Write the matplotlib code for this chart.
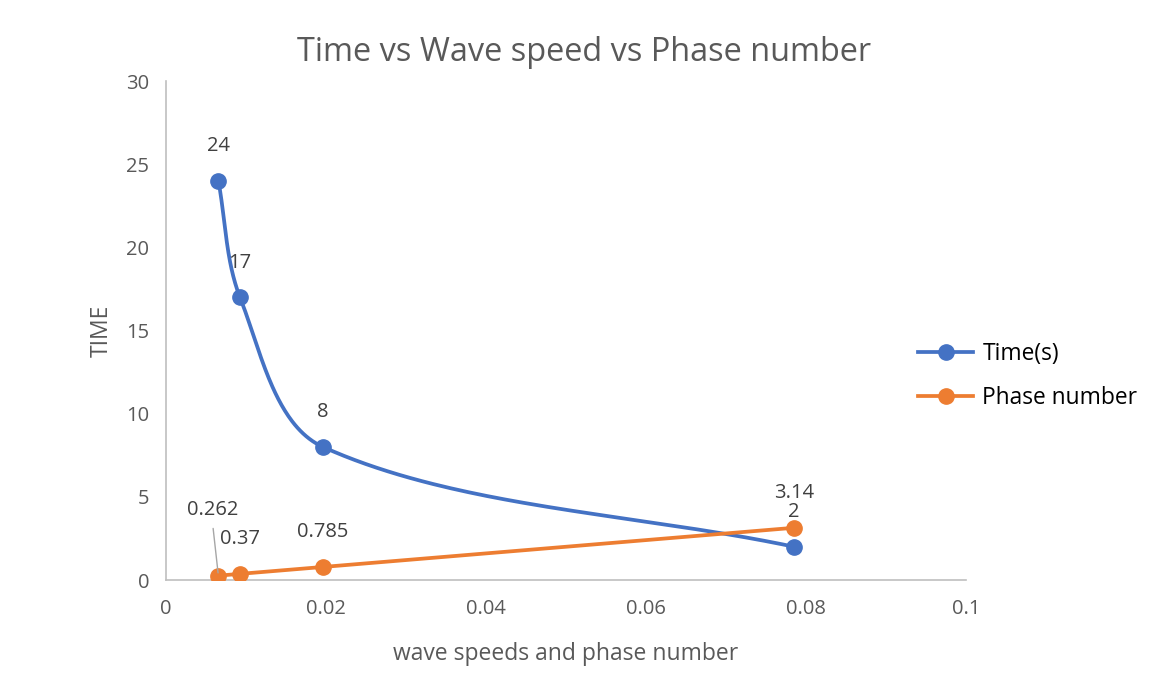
import matplotlib.pyplot as plt
import numpy as np

plt.rcParams['font.family'] = ['Open Sans', 'DejaVu Sans']

wave_speed = [0.00655, 0.00925, 0.019625, 0.0785]
time_s = [24, 17, 8, 2]
phase_number = [0.262, 0.37, 0.785, 3.14]
time_labels = ["24", "17", "8", "2"]
phase_labels = ["0.262", "0.37", "0.785", "3.14"]

BLUE = "#4472C4"
ORANGE = "#ED7D31"
TEXT = "#595959"


def smooth(xs, ys, n=80):
    # bezier segments, tangents weighted by chord length (close to excel's smoothing)
    pts = np.column_stack([xs, ys]).astype(float)
    pts = np.vstack([pts[:1], pts, pts[-1:]])
    seg = np.linalg.norm(np.diff(pts, axis=0), axis=1)
    t = np.linspace(0, 1, n)[:, None]
    out = []
    for i in range(1, len(pts) - 2):
        p0, p3 = pts[i], pts[i + 1]
        l0, l1, l2 = seg[i - 1], seg[i], seg[i + 1]
        c1 = p0 + (p3 - pts[i - 1]) * l1 / (l0 + l1) / 3
        c2 = p3 - (pts[i + 2] - p0) * l1 / (l1 + l2) / 3
        b = (1 - t) ** 3 * p0 + 3 * (1 - t) ** 2 * t * c1 + 3 * (1 - t) * t ** 2 * c2 + t ** 3 * p3
        out.append(b)
    out = np.vstack(out)
    return out[:, 0], out[:, 1]


fig = plt.figure(figsize=(11.55, 6.86), dpi=100)
ax = fig.add_axes([0.1437, 0.1545, 0.6927, 0.7274])

# smoothing done in pixel-like units so the curve bends like on screen
sx = 800 / 0.1
sy = 499 / 30
for ys, col, lab in [(time_s, BLUE, "Time(s)"), (phase_number, ORANGE, "Phase number")]:
    cx, cy = smooth(np.array(wave_speed) * sx, np.array(ys) * sy)
    ax.plot(cx / sx, cy / sy, color=col, lw=2.7, zorder=2, solid_capstyle='round')
    ax.plot(wave_speed, ys, 'o', color=col, ms=11, zorder=3)
    ax.plot([], [], '-o', color=col, lw=2.7, ms=11, label=lab)

for x, y, s in zip(wave_speed, time_s, time_labels):
    ax.annotate(s, (x, y), xytext=(0, 25), textcoords='offset points',
                ha='center', va='center', fontsize=14.5, color="#404040")
for i, (x, y, s) in enumerate(zip(wave_speed, phase_number, phase_labels)):
    if i == 0:
        ax.annotate(s, (x, y), xytext=(-4, 47), textcoords='offset points',
                    ha='center', va='center', fontsize=14.5, color="#404040")
        ax.annotate("", (x, y), xytext=(-4, 36), textcoords='offset points',
                    arrowprops=dict(arrowstyle='-', color="#A6A6A6", lw=1))
    else:
        ax.annotate(s, (x, y), xytext=(0, 25), textcoords='offset points',
                    ha='center', va='center', fontsize=14.5, color="#404040")

ax.set_xlim(0, 0.1)
ax.set_ylim(0, 30)
ax.set_xticks([0, 0.02, 0.04, 0.06, 0.08, 0.1])
ax.set_xticklabels(["0", "0.02", "0.04", "0.06", "0.08", "0.1"])
ax.set_yticks([0, 5, 10, 15, 20, 25, 30])
for side in ['top', 'right']:
    ax.spines[side].set_visible(False)
for side in ['left', 'bottom']:
    ax.spines[side].set_color("#BFBFBF")
    ax.spines[side].set_linewidth(1.2)
ax.tick_params(axis='x', length=0, labelsize=14.5, colors=TEXT, pad=14)
ax.tick_params(axis='y', length=0, labelsize=14.5, colors=TEXT, pad=12)

fig.text(0.506, 0.923, "Time vs Wave speed vs Phase number", fontsize=23.4,
         color=TEXT, ha='center', va='center')
ax.set_xlabel("wave speeds and phase number", fontsize=16.5, color=TEXT, labelpad=16)
ax.set_ylabel("TIME", fontsize=16.5, color=TEXT, labelpad=9)

ax.legend(loc='center left', bbox_to_anchor=(0.795, 0.452), bbox_transform=fig.transFigure,
          frameon=False, fontsize=16.4, handlelength=2.4, handletextpad=0.42,
          labelspacing=0.85, borderpad=0, borderaxespad=0)

fig.savefig("out.png", dpi=100)
